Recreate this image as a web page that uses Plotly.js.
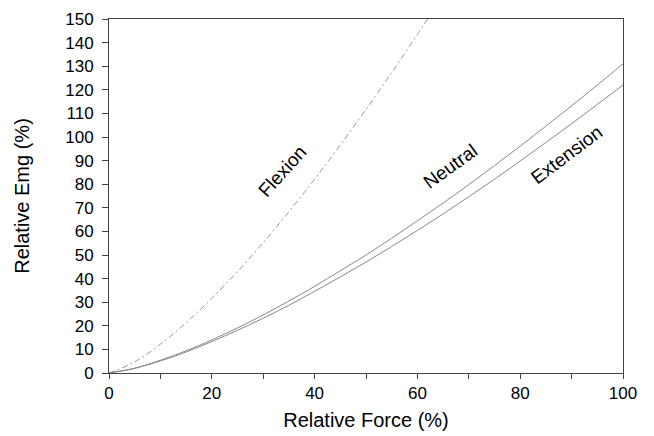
<!DOCTYPE html>
<html>
<head>
<meta charset="utf-8">
<script src="https://cdn.plot.ly/plotly-3.0.1.min.js"></script>
<style>html,body{margin:0;padding:0;background:#fff;}#chart{width:654px;height:436px;}</style>
</head>
<body>
<div id="chart"></div>
<script>
// Relative force (%) sample points
const flexionForce = [0, 5, 10, 15, 20, 25, 30, 35, 40, 45, 50, 55, 60, 62];
const flexionEmg   = [0, 4.7, 12.2, 21.3, 31.6, 43.0, 55.2, 68.3, 82.1, 96.6, 111.7, 127.3, 143.5, 150];

const force = [0, 5, 10, 15, 20, 25, 30, 35, 40, 45, 50, 55, 60, 65, 70, 75, 80, 85, 90, 95, 100];
const neutralEmg   = [0, 2.0, 5.4, 9.4, 14.0, 19.1, 24.6, 30.5, 36.7, 43.3, 50.0, 57.1, 64.5, 72.0, 79.8, 87.9, 96.1, 104.6, 113.2, 122.0, 131.0];
const extensionEmg = [0, 2.0, 5.1, 8.9, 13.3, 18.1, 23.2, 28.7, 34.6, 40.7, 47.0, 53.6, 60.4, 67.4, 74.7, 82.1, 89.8, 97.7, 105.6, 113.8, 122.0];

const xTickVals = [0, 20, 40, 60, 80, 100];
const yTickVals = [0, 10, 20, 30, 40, 50, 60, 70, 80, 90, 100, 110, 120, 130, 140, 150];

const curveLabels = ["Flexion", "Neutral", "Extension"];
const labelX = [33.7, 66.4, 89.1];
const labelY = [85.3, 87.4, 92.5];
const labelAngle = [-48, -36, -37];

const font = "Liberation Sans, Arial, Helvetica, sans-serif";

const traces = [
  {x: flexionForce, y: flexionEmg, mode: "lines", line: {color: "#999", width: 1, dash: "6px,3px,2px,3px", shape: "spline"}, name: "Flexion"},
  {x: force, y: neutralEmg, mode: "lines", line: {color: "#888", width: 1, shape: "spline"}, name: "Neutral"},
  {x: force, y: extensionEmg, mode: "lines", line: {color: "#888", width: 1, shape: "spline"}, name: "Extension"}
];

const annotations = curveLabels.map((t, i) => ({
  text: t, x: labelX[i], y: labelY[i], xref: "x", yref: "y",
  showarrow: false, textangle: labelAngle[i],
  font: {family: font, size: 19, color: "#000"}
}));

const layout = {
  width: 654, height: 436,
  margin: {l: 109, r: 31, t: 19, b: 63},
  paper_bgcolor: "#fff", plot_bgcolor: "#fff",
  showlegend: false,
  font: {family: font, color: "#000"},
  xaxis: {
    range: [0, 100], tickvals: xTickVals, ticktext: xTickVals.map(String),
    ticks: "outside", ticklen: 5, tickcolor: "#444", tickwidth: 1,
    minor: {dtick: 10, ticks: "outside", ticklen: 5, tickcolor: "#444"},
    showline: true, linecolor: "#444", linewidth: 1, mirror: true,
    showgrid: false, zeroline: false,
    tickfont: {family: font, size: 17, color: "#000"},
    title: {text: "Relative Force (%)", font: {family: font, size: 20, color: "#000"}, standoff: 10}
  },
  yaxis: {
    range: [0, 150], tickvals: yTickVals, ticktext: yTickVals.map(String),
    ticks: "outside", ticklen: 6, tickcolor: "#444", tickwidth: 1,
    ticklabelstandoff: 5,
    showline: true, linecolor: "#444", linewidth: 1, mirror: true,
    showgrid: false, zeroline: false,
    tickfont: {family: font, size: 17, color: "#000"},
    title: {text: "Relative Emg (%)", font: {family: font, size: 20, color: "#000"}, standoff: 30}
  },
  annotations: annotations
};

Plotly.newPlot("chart", traces, layout, {staticPlot: true, displayModeBar: false});
</script>
</body>
</html>
